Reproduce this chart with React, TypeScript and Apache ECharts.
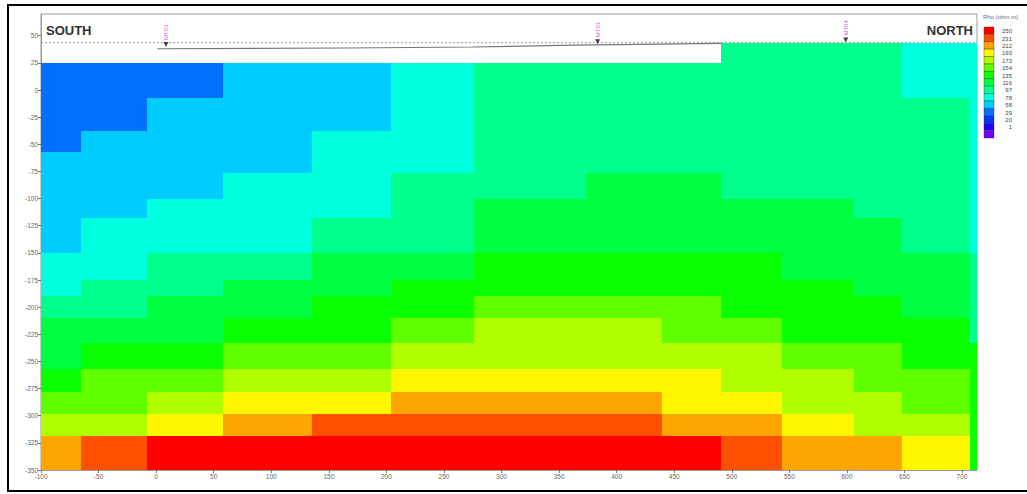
import React, { useEffect, useRef } from "react";
import * as echarts from "echarts";

// ---- data ----
// column edges (distance along profile, m) and row edges (elevation, m)
const X_EDGES = [-100, -65, -8, 58, 135, 204, 276, 373, 439, 491, 544, 606, 648, 707, 713];
const Y_EDGES = [25, -7, -38, -57, -76, -100, -118, -150, -175, -190, -210, -233, -257, -278, -298, -319, -350];
// top of the first row per column (surface)
const COLUMN_TOP = [25, 25, 25, 25, 25, 25, 25, 25, 25, 43, 43, 43, 43, 43];

// resistivity classes (ohm.m)
const B = 48, S = 68, C = 87, G1 = 106, G2 = 125, G3 = 145, L = 163, Y1 = 183, Y = 200, O = 220, R1 = 240, R = 260;
const RHO = [
  [B, B, B, S, S, C, G1, G1, G1, G1, G1, G1, C, C],
  [B, B, S, S, S, C, G1, G1, G1, G1, G1, G1, G1, C],
  [B, S, S, S, C, C, G1, G1, G1, G1, G1, G1, G1, C],
  [S, S, S, S, C, C, G1, G1, G1, G1, G1, G1, G1, C],
  [S, S, S, C, C, G1, G1, G2, G2, G1, G1, G1, G1, C],
  [S, S, C, C, C, G1, G2, G2, G2, G2, G2, G1, G1, C],
  [S, C, C, C, G1, G1, G2, G2, G2, G2, G2, G2, G1, C],
  [C, C, G1, G1, G2, G2, G3, G3, G3, G3, G2, G2, G2, G1],
  [C, G1, G1, G2, G2, G3, G3, G3, G3, G3, G3, G2, G2, G1],
  [G1, G1, G2, G2, G3, G3, L, L, L, G3, G3, G3, G2, G1],
  [G2, G2, G2, G3, G3, L, Y1, Y1, L, L, G3, G3, G3, G1],
  [G2, G3, G3, L, L, Y1, Y1, Y1, Y1, Y1, L, L, G3, G3],
  [G3, L, L, Y1, Y1, Y, Y, Y, Y, Y1, Y1, L, L, G3],
  [L, L, Y1, Y, Y, O, O, O, Y, Y, Y1, Y1, L, G3],
  [Y1, Y1, Y, O, R1, R1, R1, R1, O, O, Y, Y1, Y1, G3],
  [O, R1, R, R, R, R, R, R, R, R1, O, O, Y, G3],
];

// colour scale
const LEVELS = [250, 231, 212, 193, 173, 154, 135, 116, 97, 78, 58, 39, 20, 1];
const PALETTE = [
  "#ff0000", "#ff5000", "#ffa500", "#fff700", "#b0ff00", "#60ff00", "#0aff00",
  "#00ff40", "#00ff8c", "#00ffdd", "#00ccff", "#0070ff", "#0038ff", "#2000ff", "#7000ff",
];

// stations
const STATION_NAMES = ["MT03", "MT01", "MT04"];
const STATION_X = [8.5, 383.5, 599];
const STATION_Y = [41.8, 44.5, 46];

// topography and reference level
const TOPO_X = [1, 166, 275, 364, 491];
const TOPO_Y = [38, 38.7, 39.6, 41.4, 43];
const REF_LEVEL = 43.6;

const FONT = "'Liberation Sans', Arial, sans-serif";

export default function App() {
  const ref = useRef<HTMLDivElement>(null);

  useEffect(() => {
    if (!ref.current) return;
    const chart = echarts.init(ref.current, undefined, { renderer: "svg" });

    const cells: number[][] = [];
    for (let r = 0; r < RHO.length; r++) {
      for (let c = 0; c < RHO[r].length; c++) {
        const top = r === 0 ? COLUMN_TOP[c] : Y_EDGES[r];
        cells.push([X_EDGES[c], X_EDGES[c + 1], top, Y_EDGES[r + 1], RHO[r][c]]);
      }
    }

    const pieces: any[] = [{ gte: LEVELS[0], color: PALETTE[0] }];
    for (let i = 1; i < LEVELS.length; i++) {
      pieces.push({ gte: LEVELS[i], lt: LEVELS[i - 1], color: PALETTE[i] });
    }
    pieces.push({ lt: LEVELS[LEVELS.length - 1], color: PALETTE[PALETTE.length - 1] });

    const legendX = 984;
    const legendY = 27;
    const blockH = 7.4;
    const legend: any[] = [];
    PALETTE.forEach((col, i) => {
      legend.push({
        type: "rect",
        shape: { x: legendX, y: legendY + i * blockH, width: 10, height: blockH },
        style: { fill: col, stroke: "#333", lineWidth: 0.4 },
      });
    });
    LEVELS.forEach((lv, i) => {
      legend.push({
        type: "text",
        style: {
          text: String(lv),
          x: 1012,
          y: legendY + i * blockH + blockH / 2 + 0.5,
          fill: "#444",
          fontSize: 6,
          fontFamily: FONT,
          textAlign: "right",
          textVerticalAlign: "middle",
        },
      });
    });

    const axisLabel = { fontSize: 6.5, color: "#666", fontFamily: FONT };

    chart.setOption({
      animation: false,
      backgroundColor: "#fff",
      grid: {
        left: 41,
        right: 50,
        top: 14,
        bottom: 24,
        show: true,
        borderColor: "#999",
        borderWidth: 1,
        backgroundColor: "transparent",
      },
      xAxis: {
        type: "value",
        min: -100,
        max: 713,
        interval: 50,
        splitLine: { show: false },
        axisLine: { show: true, onZero: false, lineStyle: { color: "#999" } },
        axisTick: { show: true, length: 3, lineStyle: { color: "#777" } },
        axisLabel: { ...axisLabel, margin: 3, showMaxLabel: false },
      },
      yAxis: {
        type: "value",
        min: -350,
        max: 70,
        interval: 25,
        splitLine: { show: false },
        axisLine: { show: true, onZero: false, lineStyle: { color: "#999" } },
        axisTick: { show: true, length: 3, lineStyle: { color: "#777" } },
        axisLabel: { ...axisLabel, margin: 3, showMaxLabel: false },
      },
      visualMap: {
        type: "piecewise",
        show: false,
        dimension: 4,
        seriesIndex: 0,
        pieces,
      },
      series: [
        {
          type: "custom",
          data: cells,
          encode: { x: [0, 1], y: [2, 3] },
          renderItem: (params: any, api: any) => {
            const p0 = api.coord([api.value(0), api.value(2)]);
            const p1 = api.coord([api.value(1), api.value(3)]);
            const x0 = Math.round(p0[0]);
            const y0 = Math.round(p0[1]);
            const x1 = Math.round(p1[0]);
            const y1 = Math.round(p1[1]);
            const col = api.visual("color");
            return {
              type: "rect",
              shape: { x: x0, y: y0, width: x1 - x0, height: y1 - y0 },
              style: { fill: col, stroke: null },
            };
          },
          z: 1,
        },
        {
          type: "line",
          data: [[-100, REF_LEVEL], [713, REF_LEVEL]],
          symbol: "none",
          lineStyle: { color: "#999", width: 1, type: [2, 2] },
          z: 3,
        },
        {
          type: "line",
          data: TOPO_X.map((x, i) => [x, TOPO_Y[i]]),
          symbol: "none",
          lineStyle: { color: "#777", width: 1.2 },
          z: 4,
        },
        {
          type: "scatter",
          data: STATION_X.map((x, i) => ({ value: [x, STATION_Y[i]], name: STATION_NAMES[i] })),
          symbol: "triangle",
          symbolSize: [5, 5],
          symbolRotate: 180,
          itemStyle: { color: "#111" },
          label: {
            show: true,
            position: "top",
            formatter: "{b}",
            rotate: 90,
            align: "left",
            verticalAlign: "middle",
            distance: 2,
            fontSize: 6,
            fontFamily: FONT,
            color: "#b040c8",
          },
          z: 5,
        },
      ],
      graphic: [
        {
          type: "rect",
          shape: { x: 8, y: 5, width: 1030, height: 486 },
          style: { fill: "none", stroke: "#000", lineWidth: 2 },
          silent: true,
        },
        {
          type: "text",
          style: {
            text: "SOUTH",
            x: 46,
            y: 30,
            fill: "#333",
            fontSize: 13,
            fontWeight: "bold",
            fontFamily: FONT,
            textAlign: "left",
            textVerticalAlign: "middle",
          },
        },
        {
          type: "text",
          style: {
            text: "NORTH",
            x: 973,
            y: 30,
            fill: "#333",
            fontSize: 13,
            fontWeight: "bold",
            fontFamily: FONT,
            textAlign: "right",
            textVerticalAlign: "middle",
          },
        },
        {
          type: "text",
          style: {
            text: "Rho (ohm.m)",
            x: 983,
            y: 17,
            fill: "#5a6a8a",
            fontSize: 6,
            fontFamily: FONT,
            textAlign: "left",
            textVerticalAlign: "middle",
          },
        },
        ...legend,
      ],
    });

    return () => chart.dispose();
  }, []);

  return (
    <div
      ref={ref}
      style={{ position: "fixed", left: 0, top: 0, width: 1027, height: 494, background: "#fff" }}
    />
  );
}
